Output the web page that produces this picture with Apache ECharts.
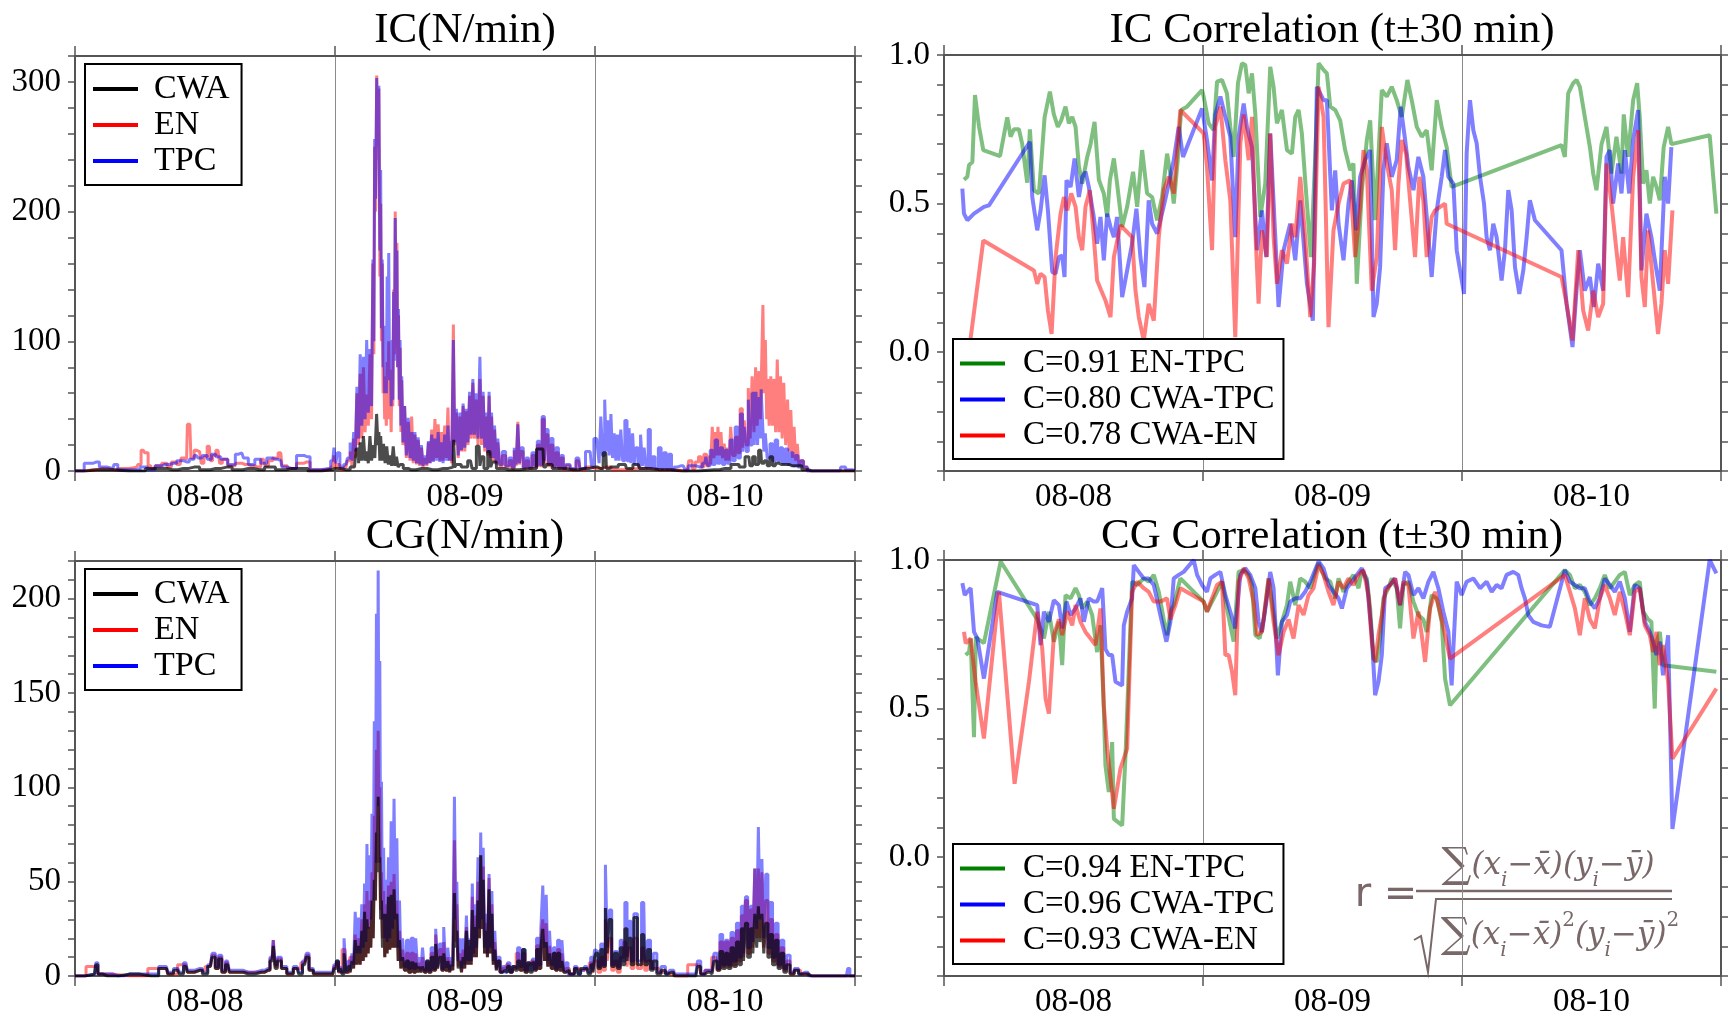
<!DOCTYPE html>
<html>
<head>
<meta charset="utf-8">
<script src="https://cdn.jsdelivr.net/npm/echarts@6/dist/echarts.min.js"></script>
<style>
  html, body { margin: 0; padding: 0; background: #fff; }
  #chart { width: 1730px; height: 1023px; }
</style>
</head>
<body>
<div id="chart"></div>
<script>
// x values are hours since 08-08 00:00
const dayLabels = ["08-08", "08-09", "08-10"];
const icTicks = [0, 100, 200, 300];
const cgTicks = [0, 50, 100, 150, 200];
const corrTicks = [0, 0.5, 1.0];

const icEN = [[0,0],[1.7,1],[2.5,2],[3.5,1],[4.2,2],[5.7,3],[5.9,5],[6.3,16],[6.6,14],[6.9,4],[7.1,2],[7.7,4],[8.3,6],[8.7,3],[9.1,7],[9.7,5],[9.9,10],[10.3,9],[10.45,36],[10.6,36],[10.8,10],[11.2,16],[11.5,15],[11.8,6],[12.0,11],[12.4,19],[12.6,8],[12.8,12],[13.2,16],[13.5,6],[13.7,9],[14.5,4],[15.1,6],[15.7,5],[16.3,4],[16.9,3],[17.4,9],[17.7,4],[18.0,8],[18.5,10],[19.0,14],[19.2,4],[20.0,2],[20.9,6],[21.4,7],[22.0,1],[23.4,1],[23.8,3],
  [24.0,12],[24.15,2],[24.3,5],[24.6,1],[25.0,3],[25.3,8],[25.5,15],[25.65,4],[25.8,25],[25.95,10],[26.1,60],[26.25,20],[26.4,75],[26.55,25],[26.7,80],[26.85,30],[27.0,59],[27.15,35],[27.3,90],[27.45,40],[27.55,160],[27.62,90],[27.7,250],[27.8,200],[27.9,305],[28.0,240],[28.1,295],[28.18,150],[28.25,206],[28.32,100],[28.4,160],[28.48,60],[28.55,73],[28.62,40],[28.7,48],[28.78,35],[28.85,84],[28.92,40],[29.0,100],[29.07,45],[29.15,55],[29.22,30],[29.3,78],[29.38,50],[29.45,140],[29.52,90],[29.6,200],[29.68,120],[29.75,176],[29.82,80],[29.9,120],[29.97,50],[30.05,95],[30.12,30],[30.2,70],[30.35,20],[30.5,50],[30.67,10],[30.85,38],[31.0,8],[31.15,42],[31.3,6],[31.45,28],[31.6,5],[31.75,24],[31.9,4],[32.05,18],[32.2,3],[32.4,10],[32.55,4],[32.7,22],[32.85,6],[33.0,32],[33.15,8],[33.3,40],[33.45,10],[33.6,36],[33.75,8],[33.9,30],[34.05,8],[34.2,35],[34.35,10],[34.5,49],[34.6,8],[34.7,20],[34.85,6],[35.0,113],[35.1,20],[35.3,45],[35.45,10],[35.6,42],[35.75,15],[35.9,50],[36.05,15],[36.2,46],[36.35,20],[36.5,58],[36.65,25],[36.8,68],[36.95,25],[37.1,55],[37.3,20],[37.45,71],[37.6,20],[37.75,58],[37.9,15],[38.05,42],[38.15,12],[38.3,58],[38.4,10],[38.5,42],[38.65,8],[38.8,32],[38.95,5],[39.1,22],[39.3,4],[39.6,12],[39.9,3],[40.2,8],[40.45,2],[40.65,16],[40.8,4],[40.95,38],[41.1,5],[41.25,15],[41.5,2],[41.75,8],[42.0,2],[42.35,12],[42.55,3],[42.8,20],[43.0,4],[43.25,40],[43.4,6],[43.55,28],[43.8,4],[44.0,20],[44.25,3],[44.5,14],[44.75,2],[44.95,10],[45.2,1],[45.4,4],[46.0,1],[46.5,8],[46.7,1],[47.55,3],[48.0,2],
  [48.3,2],[49,3],[50,1],[52,2],[54,1],[56.5,0],[56.8,8],[57.1,2],[57.4,7],[57.7,11],[57.9,3],[58.2,13],[58.4,4],[58.6,12],[58.75,5],[58.9,34],[59.05,10],[59.2,30],[59.3,12],[59.4,34],[59.55,12],[59.7,30],[59.85,10],[60.0,21],[60.15,8],[60.3,18],[60.45,8],[60.6,34],[60.8,12],[61.1,26],[61.3,14],[61.5,48],[61.7,18],[61.85,39],[62.05,20],[62.25,64],[62.4,25],[62.6,73],[62.75,30],[62.9,80],[63.05,35],[63.2,77],[63.35,40],[63.45,90],[63.55,128],[63.65,60],[63.8,101],[63.9,40],[64.0,71],[64.15,35],[64.3,73],[64.45,35],[64.6,71],[64.75,30],[64.9,86],[65.05,30],[65.2,73],[65.35,25],[65.5,68],[65.7,20],[65.85,55],[66.0,15],[66.15,47],[66.3,10],[66.45,34],[66.6,8],[66.75,21],[66.9,4],[67.1,8],[67.4,3],[67.8,0],[72,0]];

const icTPC = [[0,0],[1.7,6],[2.0,7],[2.5,3],[3.5,2],[3.7,5],[4.2,1],[5.7,1],[6.3,3],[7.1,1],[7.7,4],[8.3,5],[9.1,6],[9.7,8],[10.3,7],[10.8,9],[11.2,12],[11.5,10],[12.0,12],[12.4,9],[12.8,13],[13.2,11],[13.7,9],[14.5,5],[15.1,13],[15.4,14],[15.7,10],[16.3,5],[16.9,9],[17.4,6],[18.0,10],[18.5,9],[19.0,8],[19.2,3],[20.0,2],[20.9,12],[21.4,11],[22.0,1],[23.4,2],[23.8,8],
  [24.0,18],[24.15,6],[24.3,14],[24.6,3],[25.0,5],[25.3,10],[25.5,22],[25.65,8],[25.8,30],[25.95,15],[26.1,65],[26.25,25],[26.4,90],[26.55,35],[26.7,88],[26.85,40],[27.0,101],[27.15,45],[27.3,94],[27.45,50],[27.55,163],[27.62,100],[27.7,256],[27.8,210],[27.9,303],[28.0,250],[28.1,297],[28.18,170],[28.25,232],[28.32,110],[28.4,163],[28.48,80],[28.55,112],[28.62,60],[28.7,96],[28.78,60],[28.85,150],[28.92,80],[29.0,168],[29.07,70],[29.15,101],[29.22,50],[29.3,78],[29.38,55],[29.45,138],[29.52,85],[29.6,195],[29.68,115],[29.75,170],[29.82,80],[29.9,125],[29.97,55],[30.05,101],[30.12,35],[30.2,73],[30.35,22],[30.5,50],[30.67,12],[30.85,41],[31.0,10],[31.15,30],[31.3,8],[31.45,30],[31.6,6],[31.75,26],[31.9,5],[32.05,20],[32.2,4],[32.4,12],[32.55,5],[32.7,23],[32.85,6],[33.0,28],[33.15,7],[33.3,25],[33.45,8],[33.6,30],[33.75,7],[33.9,22],[34.05,6],[34.2,28],[34.35,8],[34.5,35],[34.6,8],[34.7,23],[34.85,8],[35.0,101],[35.1,22],[35.3,48],[35.45,12],[35.6,45],[35.75,16],[35.9,52],[36.05,18],[36.2,48],[36.35,22],[36.5,61],[36.65,28],[36.8,71],[36.95,28],[37.1,60],[37.3,25],[37.45,88],[37.6,25],[37.75,61],[37.9,18],[38.05,45],[38.15,14],[38.3,61],[38.4,12],[38.5,45],[38.65,10],[38.8,35],[38.95,6],[39.1,25],[39.3,5],[39.6,15],[39.9,4],[40.2,10],[40.45,3],[40.65,18],[40.8,5],[40.95,36],[41.1,6],[41.25,18],[41.5,3],[41.75,10],[42.0,3],[42.35,14],[42.55,4],[42.8,23],[43.0,5],[43.25,42],[43.4,8],[43.55,32],[43.8,6],[44.0,25],[44.25,4],[44.5,18],[44.75,3],[44.95,12],[45.2,2],[45.4,5],[46.0,2],[46.5,10],[46.7,2],[47.55,15],[47.8,4],[48.0,25],
  [48.15,25],[48.31,18],[48.45,6],[48.62,42],[48.8,12],[48.99,55],[49.1,15],[49.23,39],[49.4,12],[49.54,44],[49.7,10],[49.85,29],[50.0,8],[50.15,28],[50.3,8],[50.46,32],[50.65,8],[50.86,39],[51.05,8],[51.23,33],[51.4,6],[51.54,29],[51.7,5],[51.85,18],[52.1,4],[52.31,28],[52.45,4],[52.62,18],[52.8,3],[53.02,32],[53.2,3],[53.39,11],[53.7,2],[54.0,18],[54.2,2],[54.46,14],[54.7,2],[54.92,13],[55.2,1],[55.39,3],[55.69,4],[56.15,4],[56.46,1],[56.77,4],[57.38,4],[57.69,3],[58.15,6],[58.31,11],[58.5,4],[58.77,16],[58.95,5],[59.23,24],[59.4,6],[59.69,18],[59.85,5],[60.15,16],[60.3,6],[60.62,24],[60.8,8],[61.08,34],[61.3,10],[61.54,44],[61.7,15],[61.85,34],[62.05,15],[62.25,55],[62.4,20],[62.62,60],[62.78,20],[62.93,61],[63.08,20],[63.23,57],[63.3,25],[63.38,63],[63.54,39],[63.65,15],[63.79,29],[64.0,10],[64.31,21],[64.5,8],[64.77,24],[64.95,8],[65.23,18],[65.4,6],[65.69,17],[65.9,5],[66.15,14],[66.4,4],[66.62,12],[66.85,3],[67.08,8],[67.38,3],[67.8,0],[70.6,0],[70.77,3],[71.5,1],[72,0]];

const icCWA = [[0,0],[2,1],[5,0],[8,2],[9,1],[10,2],[11,3],[12,1],[13,2],[14,3],[15,1],[16,2],[17,1],[18,3],[19,1],[20,2],[21,2],[22,0],[23.5,1],[24,2],[25,1],[25.8,3],[26.1,17],[26.25,6],[26.4,22],[26.55,8],[26.7,27],[26.85,8],[27.0,15],[27.15,6],[27.3,27],[27.45,8],[27.6,20],[27.75,10],[27.93,44],[28.0,20],[28.1,30],[28.18,8],[28.25,27],[28.4,8],[28.55,21],[28.7,6],[28.85,19],[29.0,5],[29.15,12],[29.3,4],[29.45,19],[29.6,4],[29.75,11],[29.9,3],[30.1,5],[30.5,2],[31,1],[32,2],[33,1],[34,2],[34.9,3],[35.0,24],[35.1,3],[35.3,5],[36,3],[36.5,8],[36.8,2],[37.3,19],[37.45,4],[37.6,11],[37.9,2],[38.3,15],[38.45,3],[38.6,7],[39.2,2],[40,1],[42,2],[43.2,17],[43.35,3],[43.6,5],[44.5,2],[46,1],[47,2],[48,3],[48.5,2],[49.0,14],[49.1,2],[49.5,3],[50.8,5],[51,2],[52,5],[52.2,2],[54,1],[56,0],[59,1],[60,2],[61.1,5],[61.5,3],[62.2,11],[62.4,4],[62.7,11],[62.9,5],[63.3,16],[63.45,6],[63.8,8],[64.0,4],[64.3,11],[64.5,4],[64.8,6],[65.2,5],[65.7,5],[66.2,4],[66.8,4],[67.4,1],[68,0],[72,0]];

const cgTPC = [[0,0],[1.8,1],[2.04,7],[2.2,1],[3,1],[4,0],[5,1],[7,1],[8.44,5],[8.7,2],[9.48,4],[9.8,2],[10.24,7],[10.5,3],[11.52,4],[12.0,2],[12.5,6],[12.8,12],[13.1,5],[13.4,11],[13.7,3],[14.08,8],[14.4,3],[15.1,3],[16,2],[17.2,3],[17.8,4],[18.2,10],[18.4,19],[18.55,6],[18.8,10],[19.3,5],[19.8,2],[20.5,5],[20.8,2],[21.2,8],[21.5,12],[21.7,4],[22.3,2],[23.0,2],[23.8,2],
  [24.0,6],[24.25,8],[24.4,2],[24.55,5],[24.75,2],[24.92,20],[25.1,3],[25.32,8],[25.5,3],[25.63,12],[25.8,6],[25.93,34],[26.1,12],[26.24,31],[26.4,12],[26.55,38],[26.67,15],[26.79,49],[26.9,18],[27.0,70],[27.12,25],[27.25,64],[27.36,30],[27.47,86],[27.58,40],[27.68,135],[27.78,60],[27.87,192],[27.95,90],[28.02,215],[28.1,100],[28.17,167],[28.25,60],[28.33,103],[28.43,30],[28.54,68],[28.65,20],[28.75,51],[28.87,18],[29.0,63],[29.12,20],[29.25,82],[29.38,25],[29.52,94],[29.65,30],[29.77,73],[29.9,15],[30.01,40],[30.15,8],[30.32,20],[30.5,5],[30.69,19],[30.9,4],[31.15,20],[31.35,4],[31.55,20],[31.7,4],[31.85,10],[32.0,3],[32.16,15],[32.35,3],[32.53,8],[32.75,3],[32.99,15],[33.2,4],[33.39,25],[33.55,5],[33.75,17],[33.95,4],[34.12,26],[34.3,5],[34.52,15],[34.65,3],[34.8,10],[34.95,5],[35.1,95],[35.2,30],[35.29,50],[35.45,8],[35.6,20],[35.75,4],[35.9,20],[36.05,6],[36.21,32],[36.35,8],[36.52,20],[36.62,8],[36.73,49],[36.85,12],[36.98,38],[37.12,15],[37.28,63],[37.4,25],[37.5,76],[37.62,30],[37.74,68],[37.87,15],[37.99,33],[38.15,12],[38.29,54],[38.42,15],[38.54,45],[38.68,8],[38.82,24],[38.97,4],[39.12,10],[39.35,2],[39.58,5],[39.8,2],[40.04,7],[40.25,2],[40.5,5],[40.75,4],[40.96,15],[41.2,5],[41.42,14],[41.65,3],[41.88,7],[42.1,3],[42.34,9],[42.5,4],[42.71,20],[42.9,6],[43.1,25],[43.26,48],[43.42,15],[43.57,43],[43.72,8],[43.88,24],[44.05,6],[44.25,15],[44.45,4],[44.64,19],[44.85,5],[45.04,19],[45.2,3],[45.41,7],[45.6,1],[45.87,1],[46.33,5],[46.55,1],[46.79,3],[47.25,5],[47.5,2],[47.71,10],[47.9,3],
  [48.02,14],[48.15,13],[48.4,5],[48.66,17],[48.85,6],[49.07,59],[49.2,15],[49.43,35],[49.65,6],[49.94,13],[50.2,5],[50.45,19],[50.65,8],[50.86,39],[51.05,10],[51.22,29],[51.45,8],[51.73,33],[52.1,8],[52.5,39],[52.7,8],[53.0,19],[53.25,4],[53.52,12],[53.9,2],[54.3,5],[54.7,1],[55.06,3],[55.5,1],[57.3,1],[57.62,8],[57.9,1],[58.39,3],[58.8,2],[59.16,12],[59.4,4],[59.67,22],[59.9,6],[60.18,19],[60.4,6],[60.7,23],[60.9,8],[61.21,28],[61.4,10],[61.62,37],[61.8,12],[61.98,42],[62.2,15],[62.49,37],[62.65,18],[62.85,57],[63.0,25],[63.16,79],[63.3,30],[63.51,62],[63.65,20],[63.87,54],[64.05,15],[64.28,39],[64.5,10],[64.8,28],[65.0,6],[65.31,19],[65.55,4],[65.82,11],[66.2,2],[66.58,4],[67.0,1],[67.36,2],[68,0],[71.2,0],[71.45,4],[71.6,0],[72,0]];

const cgEN = [[0,0],[2.04,5],[2.2,1],[5,0],[8.44,4],[8.7,1],[10.24,6],[10.5,2],[11.52,3],[12.5,5],[12.8,11],[13.1,4],[13.4,10],[13.7,2],[14.08,7],[14.4,2],[15.1,2],[17.2,2],[17.8,3],[18.2,9],[18.4,19],[18.55,5],[18.8,9],[19.3,4],[19.8,1],[20.5,4],[21.2,7],[21.5,11],[21.7,3],[22.3,1],[23.8,1],
  [24.0,5],[24.25,7],[24.4,2],[24.92,14],[25.1,2],[25.63,10],[25.8,4],[25.93,22],[26.1,6],[26.24,20],[26.4,6],[26.55,30],[26.67,8],[26.79,38],[26.9,10],[27.0,45],[27.12,12],[27.25,40],[27.36,15],[27.47,55],[27.58,20],[27.68,85],[27.78,40],[27.87,120],[27.95,60],[28.02,130],[28.1,70],[28.17,100],[28.25,35],[28.33,55],[28.43,20],[28.54,45],[28.65,10],[28.75,38],[28.87,12],[29.0,48],[29.12,14],[29.25,50],[29.38,15],[29.52,54],[29.65,15],[29.77,40],[29.9,8],[30.01,24],[30.15,4],[30.32,14],[30.5,3],[30.69,12],[30.9,2],[31.15,12],[31.35,2],[31.55,12],[31.7,2],[31.85,7],[32.0,2],[32.16,10],[32.35,2],[32.53,7],[32.75,2],[32.99,12],[33.2,3],[33.39,22],[33.55,4],[33.75,14],[33.95,3],[34.12,18],[34.3,3],[34.52,10],[34.65,2],[34.8,8],[34.95,3],[35.1,72],[35.2,18],[35.29,38],[35.45,5],[35.6,12],[35.75,2],[35.9,14],[36.05,4],[36.21,26],[36.35,6],[36.52,16],[36.62,6],[36.73,42],[36.85,10],[36.98,32],[37.12,10],[37.28,50],[37.4,20],[37.5,64],[37.62,25],[37.74,58],[37.87,12],[37.99,28],[38.15,10],[38.29,52],[38.42,12],[38.54,38],[38.68,6],[38.82,18],[38.97,3],[39.12,8],[39.35,2],[39.58,4],[40.04,6],[40.25,2],[40.5,4],[40.96,12],[41.2,3],[41.42,12],[41.65,2],[41.88,6],[42.34,8],[42.5,3],[42.71,16],[42.9,4],[43.1,20],[43.26,30],[43.42,8],[43.57,28],[43.72,5],[43.88,16],[44.05,4],[44.25,12],[44.45,3],[44.64,14],[44.85,3],[45.04,12],[45.2,2],[45.41,4],[45.87,1],[46.33,4],[46.79,3],[47.25,4],[47.71,7],[47.9,2],
  [48.02,8],[48.15,8],[48.4,2],[48.66,10],[48.85,3],[49.07,30],[49.2,8],[49.43,20],[49.65,3],[49.94,8],[50.2,2],[50.45,10],[50.86,18],[51.05,5],[51.22,15],[51.45,4],[51.73,20],[52.1,4],[52.5,15],[52.7,3],[53.0,8],[53.52,4],[54.3,2],[55.06,1],[55.5,0],[57.62,6],[57.9,1],[58.39,3],[59.16,10],[59.4,3],[59.67,18],[59.9,5],[60.18,18],[60.4,5],[60.7,20],[60.9,6],[61.21,24],[61.4,8],[61.62,32],[61.8,10],[61.98,40],[62.2,12],[62.49,35],[62.65,15],[62.85,57],[63.0,20],[63.16,57],[63.3,20],[63.51,55],[63.65,15],[63.87,40],[64.05,12],[64.28,30],[64.5,8],[64.8,22],[65.0,5],[65.31,15],[65.55,3],[65.82,8],[66.2,1],[66.58,3],[67.36,1],[68,0],[72,0]];

const cgCWA = [[0,0],[1.8,1],[2.04,6],[2.2,1],[3,0],[5,1],[7,0],[8.44,4],[8.7,1],[9.48,3],[9.8,1],[10.24,5],[10.5,2],[11.52,3],[12.0,1],[12.5,5],[12.8,10],[13.1,4],[13.4,9],[13.7,2],[14.08,6],[14.4,2],[15.1,2],[16,1],[17.2,2],[17.8,3],[18.2,8],[18.4,16],[18.55,4],[18.8,8],[19.3,4],[19.8,1],[20.5,4],[20.8,1],[21.2,6],[21.5,10],[21.7,3],[22.3,1],[23.0,1],[23.8,1],
  [24.0,4],[24.25,8],[24.4,2],[24.55,4],[24.75,1],[24.92,12],[25.1,2],[25.32,5],[25.5,2],[25.63,8],[25.8,4],[25.93,19],[26.1,6],[26.24,16],[26.4,6],[26.55,24],[26.67,8],[26.79,34],[26.9,10],[27.0,30],[27.12,12],[27.25,26],[27.36,15],[27.47,40],[27.58,20],[27.68,51],[27.78,40],[27.87,76],[27.95,55],[28.02,95],[28.1,60],[28.17,63],[28.25,30],[28.33,40],[28.43,15],[28.54,33],[28.65,10],[28.75,33],[28.87,12],[29.0,42],[29.12,14],[29.25,43],[29.38,15],[29.52,46],[29.65,15],[29.77,33],[29.9,8],[30.01,19],[30.15,4],[30.32,10],[30.5,3],[30.69,8],[30.9,2],[31.15,7],[31.35,2],[31.55,7],[31.7,2],[31.85,5],[32.0,2],[32.16,5],[32.35,2],[32.53,8],[32.75,2],[32.99,10],[33.2,3],[33.39,17],[33.55,4],[33.75,10],[33.95,3],[34.12,12],[34.3,3],[34.52,8],[34.65,2],[34.8,6],[34.95,3],[35.1,44],[35.2,15],[35.29,24],[35.45,4],[35.6,8],[35.75,2],[35.9,10],[36.05,4],[36.21,24],[36.35,6],[36.52,19],[36.62,6],[36.73,35],[36.85,10],[36.98,26],[37.12,10],[37.28,40],[37.4,20],[37.5,64],[37.62,25],[37.74,51],[37.87,12],[37.99,24],[38.15,10],[38.29,46],[38.42,12],[38.54,33],[38.68,6],[38.82,14],[38.97,3],[39.12,8],[39.35,2],[39.58,3],[39.8,2],[40.04,5],[40.25,2],[40.5,5],[40.75,3],[40.96,8],[41.2,3],[41.42,14],[41.65,2],[41.88,7],[42.1,2],[42.34,7],[42.5,3],[42.71,14],[42.9,4],[43.1,15],[43.26,25],[43.42,8],[43.57,18],[43.72,5],[43.88,12],[44.05,4],[44.25,12],[44.45,3],[44.64,12],[44.85,3],[45.04,8],[45.2,2],[45.41,3],[45.87,1],[46.33,4],[46.55,1],[46.79,4],[47.25,4],[47.5,1],[47.71,6],[47.9,2],
  [48.02,10],[48.15,12],[48.4,4],[48.66,14],[48.85,5],[49.07,36],[49.2,12],[49.43,30],[49.65,5],[49.94,12],[50.2,4],[50.45,15],[50.65,6],[50.86,25],[51.05,8],[51.22,20],[51.45,6],[51.73,31],[52.1,6],[52.5,22],[52.7,6],[53.0,14],[53.25,3],[53.52,8],[53.9,1],[54.3,3],[54.7,1],[55.06,2],[55.5,0],[57.3,0],[57.62,5],[57.9,1],[58.39,2],[58.8,1],[59.16,8],[59.4,3],[59.67,13],[59.9,4],[60.18,12],[60.4,4],[60.7,15],[60.9,5],[61.21,18],[61.4,6],[61.62,25],[61.8,8],[61.98,28],[62.2,10],[62.49,25],[62.65,12],[62.85,33],[63.0,15],[63.16,37],[63.3,18],[63.51,33],[63.65,12],[63.87,28],[64.05,10],[64.28,22],[64.5,6],[64.8,19],[65.0,4],[65.31,12],[65.55,2],[65.82,6],[66.2,1],[66.58,3],[67.0,1],[67.36,1],[68,0],[72,0]];

const icCorrNames = ["C=0.91 EN-TPC", "C=0.80 CWA-TPC", "C=0.78 CWA-EN"];
const cgCorrNames = ["C=0.94 EN-TPC", "C=0.96 CWA-TPC", "C=0.93 CWA-EN"];

const icCorrEnTpc = [[1.85,0.58],[2.16,0.59],[2.32,0.63],[2.63,0.64],[2.87,0.865],[3.24,0.76],[3.64,0.68],[5.19,0.66],[5.86,0.79],[6.17,0.725],[6.48,0.75],[6.94,0.75],[7.25,0.70],[7.71,0.57],[7.96,0.75],[8.33,0.545],[8.8,0.534],[9.32,0.79],[9.81,0.877],[10.18,0.80],[10.55,0.758],[10.86,0.78],[11.26,0.826],[11.57,0.77],[11.88,0.792],[12.19,0.758],[12.5,0.624],[12.81,0.567],[13.27,0.657],[13.58,0.70],[13.95,0.775],[14.35,0.58],[14.81,0.534],[15.12,0.455],[15.37,0.578],[15.74,0.652],[16.04,0.567],[16.51,0.421],[16.97,0.489],[17.52,0.607],[17.9,0.489],[18.36,0.68],[18.82,0.534],[19.28,0.522],[19.75,0.444],[20.21,0.522],[20.67,0.668],[20.98,0.601],[21.29,0.50],[21.66,0.646],[21.97,0.815],[22.52,0.826],[23.91,0.882],[24.06,0.86],[24.53,0.77],[24.99,0.747],[25.3,0.91],[25.76,0.916],[26.22,0.871],[26.53,0.758],[26.84,0.657],[27.24,0.905],[27.61,0.972],[27.92,0.966],[28.23,0.871],[28.54,0.938],[28.85,0.80],[29.31,0.455],[29.77,0.567],[30.23,0.96],[30.54,0.893],[30.85,0.77],[31.31,0.815],[31.78,0.68],[32.24,0.668],[32.55,0.792],[32.86,0.815],[33.16,0.736],[33.47,0.578],[34.0,0.32],[34.4,0.657],[34.71,0.972],[35.17,0.95],[35.48,0.938],[35.79,0.826],[36.25,0.815],[36.71,0.78],[37.17,0.68],[37.64,0.612],[37.94,0.635],[38.25,0.23],[38.72,0.545],[39.18,0.714],[39.49,0.78],[39.95,0.444],[40.57,0.882],[41.03,0.86],[41.49,0.893],[41.95,0.848],[42.42,0.792],[42.94,0.916],[43.34,0.848],[43.81,0.758],[44.27,0.725],[44.73,0.747],[45.19,0.612],[45.66,0.848],[46.12,0.758],[46.58,0.69],[47.04,0.556],[57.22,0.697],[57.53,0.657],[57.84,0.871],[58.3,0.905],[58.61,0.916],[58.92,0.893],[59.38,0.792],[59.85,0.69],[60.16,0.601],[60.46,0.545],[60.93,0.70],[61.39,0.758],[61.85,0.601],[62.31,0.725],[62.78,0.601],[62.99,0.80],[63.39,0.657],[63.86,0.848],[64.23,0.905],[64.47,0.792],[64.78,0.567],[65.09,0.612],[65.4,0.50],[65.71,0.59],[66.02,0.556],[66.33,0.511],[66.69,0.69],[67.1,0.758],[67.4,0.70],[70.95,0.73],[71.57,0.466]];

const icCorrCwaTpc = [[1.7,0.55],[1.85,0.466],[2.16,0.444],[2.78,0.466],[3.7,0.489],[4.17,0.494],[7.96,0.708],[8.18,0.522],[8.64,0.41],[8.95,0.477],[9.32,0.595],[9.63,0.477],[10.03,0.27],[10.34,0.264],[10.65,0.32],[10.95,0.325],[11.17,0.253],[11.35,0.578],[11.73,0.556],[12.1,0.652],[12.5,0.522],[12.81,0.59],[13.11,0.607],[13.42,0.556],[13.88,0.455],[14.19,0.365],[14.5,0.455],[14.81,0.309],[15.12,0.466],[15.43,0.421],[15.74,0.387],[16.04,0.455],[16.51,0.185],[16.97,0.275],[17.43,0.365],[17.83,0.483],[18.2,0.32],[18.57,0.219],[18.97,0.511],[19.28,0.432],[19.75,0.399],[20.05,0.444],[20.42,0.50],[20.83,0.567],[21.29,0.646],[21.75,0.758],[22.15,0.657],[23.91,0.82],[24.37,0.714],[24.84,0.578],[25.14,0.80],[25.61,0.86],[26.07,0.792],[26.53,0.725],[26.99,0.387],[27.3,0.725],[27.77,0.837],[28.07,0.758],[28.54,0.69],[29.0,0.343],[29.46,0.477],[29.86,0.32],[30.23,0.736],[30.7,0.387],[31.0,0.152],[31.47,0.343],[32.08,0.432],[32.55,0.309],[33.01,0.511],[33.63,0.23],[34.18,0.106],[34.55,0.893],[35.17,0.848],[35.48,0.848],[35.94,0.477],[36.25,0.612],[36.56,0.432],[37.02,0.309],[37.48,0.50],[37.79,0.578],[38.19,0.41],[38.56,0.59],[39.02,0.646],[39.49,0.68],[39.8,0.118],[40.1,0.163],[40.41,0.286],[40.72,0.612],[41.03,0.703],[41.49,0.59],[41.95,0.646],[42.32,0.826],[42.73,0.714],[43.03,0.624],[43.5,0.545],[43.96,0.657],[44.42,0.59],[44.73,0.455],[45.19,0.253],[45.66,0.477],[46.12,0.59],[46.43,0.68],[46.74,0.59],[47.2,0.567],[47.51,0.343],[47.82,0.275],[48.19,0.196],[48.43,0.668],[48.74,0.848],[49.05,0.747],[49.36,0.703],[49.67,0.59],[50.04,0.50],[50.28,0.387],[50.59,0.343],[50.9,0.432],[51.21,0.387],[51.67,0.241],[51.98,0.343],[52.29,0.545],[52.6,0.477],[52.91,0.286],[53.31,0.196],[53.68,0.275],[53.99,0.387],[54.29,0.511],[54.76,0.444],[57.22,0.343],[57.69,0.163],[58.24,0.017],[58.61,0.207],[58.92,0.343],[59.38,0.207],[59.85,0.253],[60.22,0.152],[60.62,0.298],[61.08,0.207],[61.39,0.657],[61.7,0.68],[62.0,0.50],[62.47,0.635],[62.78,0.534],[63.09,0.68],[63.49,0.534],[63.86,0.714],[64.32,0.815],[64.63,0.275],[65.09,0.466],[65.55,0.387],[66.02,0.275],[66.33,0.207],[66.79,0.59],[67.1,0.50],[67.4,0.69]];

const icCorrCwaEn = [[2.3,0.0],[3.64,0.376],[8.33,0.275],[8.64,0.23],[8.95,0.264],[9.32,0.253],[9.63,0.14],[9.97,0.061],[10.34,0.32],[10.8,0.466],[11.11,0.522],[11.42,0.477],[11.79,0.534],[12.19,0.489],[12.5,0.387],[12.81,0.343],[13.11,0.489],[13.51,0.545],[13.88,0.387],[14.19,0.241],[14.56,0.208],[14.96,0.174],[15.43,0.118],[15.74,0.32],[16.35,0.427],[17.43,0.387],[17.74,0.208],[18.05,0.118],[18.51,0.039],[18.97,0.163],[19.44,0.106],[19.9,0.387],[20.36,0.545],[20.83,0.59],[21.29,0.534],[21.9,0.815],[24.06,0.736],[24.37,0.624],[24.84,0.343],[25.14,0.758],[25.61,0.826],[26.07,0.646],[26.53,0.511],[26.99,0.05],[27.46,0.703],[27.77,0.80],[28.23,0.646],[28.54,0.792],[28.85,0.41],[29.15,0.163],[29.46,0.41],[29.92,0.32],[30.23,0.736],[30.54,0.387],[30.85,0.23],[31.31,0.343],[31.78,0.298],[32.24,0.432],[32.55,0.387],[33.01,0.59],[33.47,0.387],[33.94,0.118],[34.3,0.298],[34.71,0.893],[35.17,0.792],[35.63,0.084],[36.09,0.41],[36.56,0.50],[37.02,0.567],[37.64,0.578],[38.1,0.32],[38.56,0.489],[38.87,0.68],[39.18,0.612],[39.64,0.207],[40.1,0.32],[40.57,0.758],[41.03,0.635],[41.49,0.545],[41.8,0.343],[42.11,0.567],[42.42,0.714],[42.82,0.668],[43.19,0.511],[43.65,0.32],[44.05,0.59],[44.42,0.511],[44.73,0.32],[45.19,0.455],[45.5,0.477],[46.43,0.50],[46.58,0.432],[57.22,0.253],[57.69,0.163],[58.24,0.039],[58.77,0.343],[59.23,0.14],[59.69,0.073],[60.16,0.207],[60.62,0.118],[61.08,0.163],[61.39,0.635],[61.85,0.50],[62.31,0.343],[62.62,0.241],[62.93,0.387],[63.39,0.185],[63.86,0.59],[64.32,0.747],[64.63,0.253],[64.94,0.152],[65.24,0.41],[65.71,0.23],[66.17,0.061],[66.48,0.163],[66.79,0.343],[67.1,0.23],[67.5,0.477]];

const cgCorrEnTpc = [[2.01,0.68],[2.32,0.69],[2.47,0.736],[2.78,0.404],[2.95,0.74],[3.7,0.72],[5.25,0.995],[8.64,0.80],[9.26,0.736],[9.72,0.826],[10.18,0.725],[10.65,0.792],[10.95,0.646],[11.26,0.882],[11.73,0.871],[12.19,0.905],[12.5,0.882],[12.81,0.837],[13.27,0.86],[13.73,0.815],[14.19,0.69],[14.5,0.78],[14.81,0.50],[14.96,0.309],[15.27,0.219],[15.58,0.387],[15.74,0.129],[16.51,0.107],[16.82,0.343],[17.43,0.927],[17.9,0.916],[18.51,0.938],[18.97,0.927],[19.44,0.95],[19.9,0.893],[20.36,0.80],[20.67,0.747],[20.98,0.826],[21.29,0.848],[21.9,0.938],[24.06,0.86],[24.37,0.826],[24.84,0.86],[25.3,0.893],[25.76,0.927],[26.22,0.837],[26.53,0.78],[26.84,0.725],[27.3,0.96],[27.77,0.966],[28.23,0.95],[28.54,0.916],[28.85,0.747],[29.25,0.736],[29.62,0.80],[30.08,0.938],[30.39,0.86],[30.85,0.736],[31.31,0.792],[31.78,0.848],[32.08,0.927],[32.55,0.848],[33.01,0.938],[33.47,0.927],[33.94,0.905],[34.71,0.99],[35.32,0.938],[35.79,0.927],[36.25,0.871],[36.56,0.938],[37.02,0.893],[37.48,0.927],[37.94,0.95],[38.41,0.905],[38.72,0.966],[39.18,0.938],[39.49,0.837],[39.8,0.668],[40.1,0.657],[40.41,0.736],[40.72,0.871],[41.18,0.905],[41.49,0.938],[41.95,0.905],[42.26,0.77],[42.57,0.916],[43.03,0.927],[43.5,0.86],[43.96,0.815],[44.42,0.80],[44.73,0.758],[45.19,0.882],[45.66,0.871],[46.12,0.792],[46.43,0.601],[46.89,0.511],[57.53,0.966],[58.0,0.95],[58.46,0.905],[58.92,0.916],[59.38,0.893],[59.85,0.848],[60.31,0.871],[60.77,0.905],[61.23,0.95],[61.7,0.905],[62.16,0.927],[62.62,0.95],[63.09,0.96],[63.55,0.882],[64.01,0.916],[64.47,0.927],[64.78,0.826],[65.24,0.80],[65.55,0.792],[65.86,0.50],[66.02,0.725],[66.33,0.758],[66.63,0.646],[71.57,0.624]];

const cgCorrCwaTpc = [[1.7,0.922],[1.92,0.882],[2.16,0.893],[2.47,0.905],[2.78,0.758],[3.09,0.736],[3.7,0.601],[4.94,0.893],[8.64,0.848],[8.95,0.714],[9.26,0.826],[9.72,0.792],[10.18,0.865],[10.65,0.848],[10.95,0.77],[11.35,0.86],[11.73,0.815],[12.19,0.837],[12.65,0.871],[12.96,0.792],[13.42,0.871],[13.88,0.86],[14.19,0.86],[14.66,0.905],[14.96,0.70],[15.27,0.68],[15.58,0.68],[15.89,0.59],[16.51,0.578],[16.66,0.78],[16.97,0.826],[17.43,0.871],[17.59,0.983],[18.05,0.96],[18.51,0.938],[18.97,0.938],[19.44,0.916],[20.05,0.815],[20.61,0.725],[20.98,0.792],[21.29,0.938],[21.75,0.95],[22.21,0.96],[23.14,1.0],[23.45,0.95],[23.91,0.916],[24.37,0.893],[24.68,0.938],[25.14,0.95],[25.61,0.96],[26.07,0.882],[26.53,0.826],[26.99,0.77],[27.46,0.95],[27.92,0.972],[28.38,0.95],[28.85,0.905],[29.15,0.792],[29.46,0.758],[29.92,0.871],[30.23,0.96],[30.54,0.905],[30.94,0.612],[31.31,0.792],[31.78,0.815],[32.08,0.86],[32.55,0.871],[33.01,0.871],[33.47,0.893],[33.94,0.927],[34.71,0.995],[35.17,0.972],[35.63,0.916],[36.09,0.893],[36.56,0.871],[36.87,0.837],[37.33,0.905],[37.79,0.927],[38.25,0.95],[38.72,0.972],[39.18,0.927],[39.64,0.747],[39.95,0.545],[40.26,0.59],[40.57,0.68],[40.88,0.905],[41.34,0.916],[41.8,0.938],[42.26,0.848],[42.73,0.96],[43.03,0.95],[43.5,0.882],[43.96,0.905],[44.42,0.871],[44.89,0.927],[45.35,0.96],[45.81,0.905],[46.27,0.826],[46.74,0.758],[47.04,0.578],[47.2,0.703],[47.51,0.927],[47.97,0.882],[48.43,0.927],[49.05,0.938],[49.67,0.905],[50.28,0.927],[50.75,0.893],[51.21,0.916],[51.67,0.905],[52.13,0.95],[52.75,0.96],[53.21,0.95],[53.52,0.905],[53.83,0.871],[54.14,0.815],[54.6,0.792],[55.37,0.78],[56.14,0.775],[57.53,0.966],[58.0,0.927],[58.46,0.916],[58.92,0.905],[59.38,0.905],[59.85,0.86],[60.31,0.837],[60.77,0.871],[61.23,0.938],[61.7,0.916],[62.16,0.893],[62.62,0.927],[63.09,0.871],[63.55,0.758],[64.01,0.916],[64.47,0.905],[64.94,0.792],[65.4,0.758],[65.71,0.725],[66.02,0.68],[66.33,0.725],[66.63,0.612],[67.1,0.747],[67.5,0.095],[70.95,1.0],[71.57,0.955]];

const cgCorrCwaEn = [[1.85,0.758],[2.01,0.72],[2.47,0.736],[2.93,0.59],[3.7,0.399],[5.09,0.893],[6.54,0.247],[7.87,0.59],[8.64,0.826],[9.1,0.703],[9.41,0.534],[9.72,0.483],[10.18,0.747],[10.65,0.80],[10.95,0.747],[11.42,0.826],[11.88,0.78],[12.19,0.848],[12.65,0.792],[13.11,0.758],[13.58,0.736],[14.04,0.714],[14.5,0.837],[14.81,0.511],[15.12,0.365],[15.74,0.163],[16.35,0.298],[16.97,0.365],[17.43,0.893],[17.9,0.927],[18.51,0.905],[18.97,0.893],[19.44,0.86],[20.05,0.86],[20.67,0.871],[20.98,0.80],[21.44,0.848],[21.9,0.905],[24.06,0.86],[24.37,0.826],[24.84,0.871],[25.3,0.916],[25.76,0.927],[26.07,0.68],[26.38,0.68],[26.69,0.624],[26.99,0.545],[27.3,0.927],[27.77,0.972],[28.23,0.938],[28.69,0.86],[29.0,0.747],[29.46,0.758],[30.08,0.938],[30.54,0.792],[31.0,0.68],[31.47,0.758],[31.93,0.80],[32.39,0.736],[32.86,0.848],[33.32,0.815],[33.78,0.882],[34.24,0.905],[34.71,0.983],[35.17,0.95],[35.63,0.893],[36.09,0.848],[36.56,0.927],[37.02,0.905],[37.48,0.938],[37.94,0.916],[38.41,0.95],[38.87,0.966],[39.33,0.882],[39.64,0.725],[39.95,0.657],[40.26,0.747],[40.57,0.815],[40.88,0.893],[41.34,0.916],[41.8,0.938],[42.26,0.848],[42.57,0.927],[43.03,0.916],[43.5,0.736],[43.96,0.826],[44.27,0.747],[44.58,0.657],[45.04,0.837],[45.5,0.893],[45.96,0.826],[46.43,0.747],[46.89,0.668],[57.53,0.95],[58.0,0.893],[58.46,0.837],[58.92,0.747],[59.38,0.871],[59.85,0.80],[60.31,0.77],[60.77,0.871],[61.23,0.916],[61.7,0.871],[62.16,0.815],[62.62,0.893],[63.09,0.826],[63.55,0.747],[64.01,0.893],[64.47,0.905],[64.94,0.78],[65.4,0.747],[65.71,0.69],[66.02,0.758],[66.33,0.646],[66.63,0.714],[67.1,0.59],[67.5,0.331],[71.57,0.567]];

const serif = "'Liberation Serif', 'Times New Roman', serif";
const frameColor = "#555";

function xAxesFor(gi) {
  return [
    {
      type: "value", gridIndex: gi, min: 0, max: 72, interval: 24, position: "bottom",
      axisLine: { show: true, onZero: false, lineStyle: { color: frameColor, width: 2 } },
      axisTick: { show: true, length: 10, lineStyle: { color: frameColor, width: 1.5 } },
      axisLabel: {
        customValues: [12, 36, 60],
        formatter: (v) => dayLabels[Math.round((v - 12) / 24)],
        fontFamily: serif, fontSize: 33, color: "#000", margin: 10,
      },
      splitLine: { show: true, lineStyle: { color: "#8a8a8a", width: 1 } },
    },
    {
      type: "value", gridIndex: gi, min: 0, max: 72, interval: 24, position: "top",
      axisLine: { show: true, onZero: false, lineStyle: { color: frameColor, width: 2 } },
      axisTick: { show: true, length: 10, lineStyle: { color: frameColor, width: 1.5 } },
      axisLabel: { show: false },
      splitLine: { show: false },
    },
  ];
}

function yAxesFor(gi, min, max, step, labels, fmt) {
  const common = {
    type: "value", gridIndex: gi, min: min, max: max, interval: step,
    axisLine: { show: true, onZero: false, lineStyle: { color: frameColor, width: 2 } },
    axisTick: { show: true, length: 7, lineStyle: { color: frameColor, width: 1.5 } },
    splitLine: { show: false },
  };
  return [
    Object.assign({}, common, {
      position: "left",
      axisLabel: { customValues: labels, formatter: fmt, fontFamily: serif, fontSize: 33, color: "#000", margin: 14 },
    }),
    Object.assign({}, common, { position: "right", axisLabel: { show: false } }),
  ];
}

function countSeries(name, data, color, alpha, gi) {
  return {
    name: name, type: "line", data: data, xAxisIndex: gi * 2, yAxisIndex: gi * 2,
    step: "middle", symbol: "none", color: color, animation: false,
    lineStyle: { width: 3, opacity: alpha },
  };
}

function corrSeries(name, data, color, gi) {
  return {
    name: name, type: "line", data: data, xAxisIndex: gi * 2, yAxisIndex: gi * 2,
    symbol: "none", color: color, animation: false,
    lineStyle: { width: 4, opacity: 0.5 },
  };
}

function legendAt(names, left, top, leftPad, textGap, rightPad, size) {
  return {
    data: names, orient: "vertical", left: left, top: top,
    backgroundColor: "#fff", borderColor: "#000", borderWidth: 2,
    padding: [8, rightPad, 7, leftPad], itemGap: 36 - size, itemWidth: 45, itemHeight: 4,
    icon: "rect",
    textStyle: { fontFamily: serif, fontSize: size, color: "#000", padding: [0, 0, 0, textGap] },
  };
}

const titleStyle = { fontFamily: serif, fontSize: 43, fontWeight: "normal", color: "#000" };
const formulaColor = "#7a6868";
const mathRich = {
  s: { fontSize: 42, fontFamily: "'DejaVu Serif', serif", fill: formulaColor, lineHeight: 50 },
  v: { fontSize: 31, fontStyle: "italic", fontFamily: "'DejaVu Serif', serif", fill: formulaColor, lineHeight: 50 },
  b: { fontSize: 20, fontStyle: "italic", fontFamily: "'DejaVu Serif', serif", fill: formulaColor, lineHeight: 20, verticalAlign: "bottom" },
  p: { fontSize: 20, fontFamily: "'DejaVu Serif', serif", fill: formulaColor, lineHeight: 30, verticalAlign: "top" },
};

const option = {
  backgroundColor: "#fff",
  animation: false,
  title: [
    { text: "IC(N/min)", left: 465, top: 9, textAlign: "center", padding: 0, textStyle: titleStyle },
    { text: "IC Correlation (t\u00b130 min)", left: 1332, top: 9, textAlign: "center", padding: 0, textStyle: titleStyle },
    { text: "CG(N/min)", left: 465, top: 515, textAlign: "center", padding: 0, textStyle: titleStyle },
    { text: "CG Correlation (t\u00b130 min)", left: 1332, top: 515, textAlign: "center", padding: 0, textStyle: titleStyle },
  ],
  grid: [
    { left: 75, top: 56, width: 780, height: 415 },
    { left: 944, top: 55, width: 777, height: 416 },
    { left: 75, top: 561, width: 780, height: 415 },
    { left: 944, top: 560, width: 777, height: 416 },
  ],
  xAxis: [].concat(xAxesFor(0), xAxesFor(1), xAxesFor(2), xAxesFor(3)),
  yAxis: [].concat(
    yAxesFor(0, 0, 320, 20, icTicks, (v) => String(v)),
    yAxesFor(1, -0.4, 1.0, 0.1, corrTicks, (v) => v.toFixed(1)),
    yAxesFor(2, 0, 220, 10, cgTicks, (v) => String(v)),
    yAxesFor(3, -0.4, 1.0, 0.1, corrTicks, (v) => v.toFixed(1))
  ),
  legend: [
    legendAt(["CWA", "EN", "TPC"], 85, 64, 8, 11, 12, 34),
    legendAt(icCorrNames, 953, 339, 7, 13, 9, 33),
    legendAt(["CWA", "EN", "TPC"], 85, 569, 8, 11, 12, 34),
    legendAt(cgCorrNames, 953, 844, 7, 13, 9, 33),
  ],
  series: [
    countSeries("EN", icEN, "#ff0000", 0.5, 0),
    countSeries("TPC", icTPC, "#0000ff", 0.5, 0),
    countSeries("CWA", icCWA, "#000000", 0.7, 0),
    corrSeries(icCorrNames[0], icCorrEnTpc, "#008000", 1),
    corrSeries(icCorrNames[1], icCorrCwaTpc, "#0000ff", 1),
    corrSeries(icCorrNames[2], icCorrCwaEn, "#ff0000", 1),
    countSeries("EN", cgEN, "#ff0000", 0.5, 2),
    countSeries("TPC", cgTPC, "#0000ff", 0.5, 2),
    countSeries("CWA", cgCWA, "#000000", 0.7, 2),
    corrSeries(cgCorrNames[0], cgCorrEnTpc, "#008000", 3),
    corrSeries(cgCorrNames[1], cgCorrCwaTpc, "#0000ff", 3),
    corrSeries(cgCorrNames[2], cgCorrCwaEn, "#ff0000", 3),
  ],
  graphic: [
    { type: "text", x: 1386, y: 896, style: { text: "r =", font: "40px 'DejaVu Sans', sans-serif", fill: formulaColor, align: "center", verticalAlign: "middle" } },
    { type: "text", x: 1548, y: 866, style: { text: "{s|\u2211}{v|(x}{b|i}{v|\u2212x\u0304)(y}{b|i}{v|\u2212y\u0304)}", rich: mathRich, align: "center", verticalAlign: "middle" } },
    { type: "line", shape: { x1: 1416, y1: 891, x2: 1672, y2: 891 }, style: { stroke: formulaColor, lineWidth: 2.5 } },
    { type: "polyline", shape: { points: [[1414, 940], [1421, 936], [1428, 972], [1436, 899], [1672, 899]] }, style: { stroke: formulaColor, lineWidth: 2, fill: null } },
    { type: "text", x: 1560, y: 936, style: { text: "{s|\u2211}{v|(x}{b|i}{v|\u2212x\u0304)}{p|2}{v|(y}{b|i}{v|\u2212y\u0304)}{p|2}", rich: mathRich, align: "center", verticalAlign: "middle" } },
  ],
};

const chart = echarts.init(document.getElementById("chart"), null, { renderer: "canvas" });
chart.setOption(option);
</script>
</body>
</html>
